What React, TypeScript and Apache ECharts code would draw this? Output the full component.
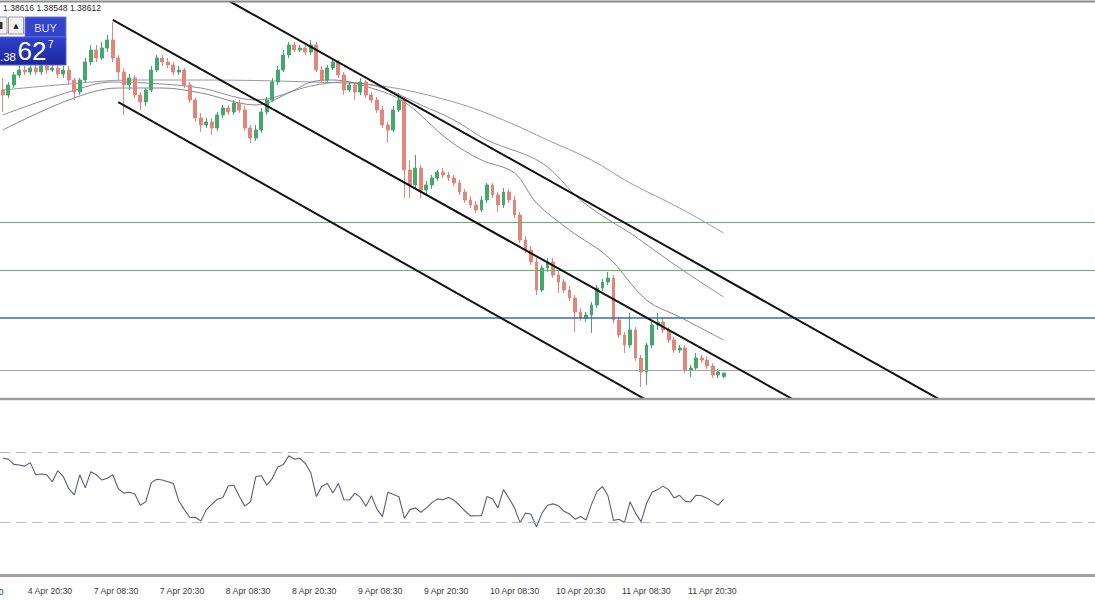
import React, { useEffect, useRef } from "react";
import * as echarts from "echarts";

// ---------- data ----------
const TOTAL_SLOTS = 199; // hourly slots on the time axis (incl. empty right margin)
const BARS_PER_LABEL = 12;
const FIRST_LABEL_SLOT = -8; // slot of tickLabels[0] (just left of the visible area)

const tickLabels = [
  "4 Apr 08:30", "4 Apr 20:30", "7 Apr 08:30", "7 Apr 20:30", "8 Apr 08:30", "8 Apr 20:30",
  "9 Apr 08:30", "9 Apr 20:30", "10 Apr 08:30", "10 Apr 20:30", "11 Apr 08:30", "11 Apr 20:30",
];

// hourly candles: [open, close, low, high]
const candles: number[][] = [
  [1.42150, 1.42088, 1.41875, 1.42300], [1.42088, 1.42213, 1.42050, 1.42250], [1.42213, 1.42338, 1.42175, 1.42375],
  [1.42338, 1.42400, 1.42300, 1.42450], [1.42400, 1.42375, 1.42338, 1.42450], [1.42375, 1.42425, 1.42338, 1.42463],
  [1.42425, 1.42375, 1.42338, 1.42463], [1.42375, 1.42450, 1.42338, 1.42500], [1.42450, 1.42400, 1.42350, 1.42500],
  [1.42400, 1.42425, 1.42375, 1.42463], [1.42425, 1.42350, 1.42300, 1.42463], [1.42350, 1.42400, 1.42300, 1.42450],
  [1.42400, 1.42275, 1.42213, 1.42450], [1.42275, 1.42125, 1.42025, 1.42300], [1.42125, 1.42275, 1.42088, 1.42300],
  [1.42275, 1.42500, 1.42238, 1.42550], [1.42500, 1.42650, 1.42463, 1.42713], [1.42650, 1.42550, 1.42500, 1.42713],
  [1.42550, 1.42675, 1.42525, 1.42750], [1.42675, 1.42775, 1.42625, 1.42838], [1.42775, 1.42550, 1.42500, 1.43000],
  [1.42550, 1.42375, 1.42275, 1.42588], [1.42375, 1.42213, 1.41838, 1.42425], [1.42213, 1.42300, 1.42150, 1.42350],
  [1.42300, 1.42088, 1.42050, 1.42338], [1.42088, 1.42000, 1.41900, 1.42125], [1.42000, 1.42150, 1.41950, 1.42175],
  [1.42150, 1.42400, 1.42125, 1.42450], [1.42400, 1.42550, 1.42375, 1.42588], [1.42550, 1.42500, 1.42450, 1.42588],
  [1.42500, 1.42463, 1.42425, 1.42550], [1.42463, 1.42375, 1.42338, 1.42500], [1.42375, 1.42400, 1.42338, 1.42450],
  [1.42400, 1.42213, 1.42175, 1.42425], [1.42213, 1.42025, 1.41988, 1.42250], [1.42025, 1.41800, 1.41750, 1.42050],
  [1.41800, 1.41713, 1.41625, 1.41863], [1.41713, 1.41750, 1.41675, 1.41800], [1.41750, 1.41675, 1.41588, 1.41800],
  [1.41675, 1.41838, 1.41638, 1.41875], [1.41838, 1.41925, 1.41800, 1.41963], [1.41925, 1.41875, 1.41838, 1.41963],
  [1.41875, 1.41988, 1.41838, 1.42025], [1.41988, 1.41900, 1.41863, 1.42025], [1.41900, 1.41675, 1.41638, 1.41950],
  [1.41675, 1.41550, 1.41488, 1.41713], [1.41550, 1.41650, 1.41513, 1.41713], [1.41650, 1.41875, 1.41613, 1.41925],
  [1.41875, 1.42025, 1.41838, 1.42063], [1.42025, 1.42250, 1.42000, 1.42300], [1.42250, 1.42400, 1.42213, 1.42450],
  [1.42400, 1.42588, 1.42375, 1.42650], [1.42588, 1.42713, 1.42550, 1.42750], [1.42713, 1.42650, 1.42625, 1.42750],
  [1.42650, 1.42675, 1.42625, 1.42713], [1.42675, 1.42625, 1.42588, 1.42713], [1.42625, 1.42713, 1.42588, 1.42775],
  [1.42713, 1.42400, 1.42375, 1.42750], [1.42400, 1.42275, 1.42238, 1.42450], [1.42275, 1.42425, 1.42250, 1.42463],
  [1.42425, 1.42500, 1.42400, 1.42525], [1.42500, 1.42338, 1.42300, 1.42525], [1.42338, 1.42150, 1.42088, 1.42375],
  [1.42150, 1.42213, 1.42125, 1.42250], [1.42213, 1.42125, 1.42025, 1.42250], [1.42125, 1.42250, 1.42088, 1.42300],
  [1.42250, 1.42088, 1.42050, 1.42275], [1.42088, 1.42025, 1.41988, 1.42125], [1.42025, 1.41900, 1.41863, 1.42063],
  [1.41900, 1.41713, 1.41675, 1.41950], [1.41713, 1.41650, 1.41488, 1.41750], [1.41650, 1.41900, 1.41625, 1.41950],
  [1.41900, 1.42025, 1.41875, 1.42113], [1.42025, 1.41150, 1.40800, 1.42063], [1.41150, 1.40963, 1.40800, 1.41275],
  [1.40963, 1.41175, 1.40900, 1.41338], [1.41175, 1.40900, 1.40800, 1.41213], [1.40900, 1.40963, 1.40825, 1.41013],
  [1.40963, 1.41050, 1.40913, 1.41088], [1.41050, 1.41125, 1.41013, 1.41150], [1.41125, 1.41088, 1.41050, 1.41175],
  [1.41088, 1.41050, 1.41013, 1.41125], [1.41050, 1.40988, 1.40950, 1.41088], [1.40988, 1.40875, 1.40838, 1.41025],
  [1.40875, 1.40775, 1.40738, 1.40913], [1.40775, 1.40713, 1.40675, 1.40825], [1.40713, 1.40650, 1.40613, 1.40763],
  [1.40650, 1.40775, 1.40625, 1.40825], [1.40775, 1.40963, 1.40738, 1.40988], [1.40963, 1.40838, 1.40800, 1.40988],
  [1.40838, 1.40713, 1.40625, 1.40875], [1.40713, 1.40875, 1.40675, 1.40925], [1.40875, 1.40775, 1.40738, 1.40913],
  [1.40775, 1.40588, 1.40550, 1.40825], [1.40588, 1.40275, 1.40238, 1.40625], [1.40275, 1.40150, 1.40113, 1.40325],
  [1.40150, 1.40000, 1.39963, 1.40200], [1.40000, 1.39650, 1.39588, 1.40050], [1.39650, 1.39925, 1.39625, 1.39963],
  [1.39925, 1.40000, 1.39875, 1.40050], [1.40000, 1.39838, 1.39800, 1.40050], [1.39838, 1.39750, 1.39613, 1.39888],
  [1.39750, 1.39650, 1.39613, 1.39788], [1.39650, 1.39550, 1.39513, 1.39700], [1.39550, 1.39375, 1.39125, 1.39588],
  [1.39375, 1.39300, 1.39263, 1.39425], [1.39300, 1.39338, 1.39250, 1.39375], [1.39338, 1.39463, 1.39113, 1.39500],
  [1.39463, 1.39675, 1.39425, 1.39713], [1.39675, 1.39750, 1.39638, 1.39788], [1.39750, 1.39800, 1.39713, 1.39875],
  [1.39800, 1.39275, 1.39238, 1.39838], [1.39275, 1.39088, 1.39050, 1.39313], [1.39088, 1.38963, 1.38863, 1.39125],
  [1.38963, 1.39150, 1.38925, 1.39363], [1.39150, 1.38800, 1.38763, 1.39188], [1.38800, 1.38625, 1.38438, 1.38838],
  [1.38625, 1.38963, 1.38463, 1.38988], [1.38963, 1.39213, 1.38925, 1.39250], [1.39213, 1.39250, 1.39150, 1.39363],
  [1.39250, 1.39150, 1.39113, 1.39300], [1.39150, 1.39025, 1.38988, 1.39188], [1.39025, 1.38900, 1.38863, 1.39063],
  [1.38900, 1.38925, 1.38863, 1.38963], [1.38925, 1.38650, 1.38613, 1.38963], [1.38650, 1.38675, 1.38563, 1.38713],
  [1.38675, 1.38800, 1.38638, 1.38863], [1.38800, 1.38775, 1.38738, 1.38838], [1.38775, 1.38700, 1.38663, 1.38825],
  [1.38700, 1.38588, 1.38550, 1.38738], [1.38588, 1.38625, 1.38550, 1.38663], [1.38570, 1.38612, 1.38548, 1.38616],
];

// moving averages, sampled: [bar index, price]
const maSlow: number[][] = [
  [0, 1.42150], [12, 1.42225], [23, 1.42275], [36, 1.42275], [56, 1.42250], [69, 1.42200],
  [82, 1.42000], [91, 1.41775], [99, 1.41525], [107, 1.41275], [114, 1.40988], [123, 1.40675], [131, 1.40363],
];
const maMid: number[][] = [
  [0, 1.41838], [12, 1.42125], [20, 1.42250], [29, 1.42225], [36, 1.42175], [46, 1.42025],
  [56, 1.42200], [62, 1.42250], [69, 1.42175], [76, 1.41963], [82, 1.41775], [88, 1.41525],
  [98, 1.41238], [105, 1.40775], [111, 1.40488], [114, 1.40363], [123, 1.39925], [131, 1.39563],
];
const maFast: number[][] = [
  [0, 1.41650], [12, 1.42025], [21, 1.42175], [29, 1.42175], [36, 1.42113], [46, 1.41963],
  [53, 1.42150], [56, 1.42250], [60, 1.42275], [67, 1.42175], [73, 1.42000], [81, 1.41525],
  [87, 1.41275], [93, 1.41113], [97, 1.40738], [103, 1.40400], [110, 1.40063], [117, 1.39525],
  [123, 1.39313], [131, 1.39025],
];

// trend channel lines: two anchor points each [bar index, price]
const channelMid: number[][] = [[20, 1.43026], [144, 1.38268]];
const channelLow: number[][] = [[21, 1.41998], [117, 1.38274]];
const channelHigh: number[][] = [[41, 1.43268], [171, 1.38253]];

const greenLevels = [1.4050, 1.3990];
const blueLevel = 1.3930;
const grayLevel = 1.3865;

// oscillator (0-100) per bar
const rsi: number[] = [
  66.5, 66, 63, 62.6, 62, 64, 57, 57.5, 57, 53,
  59.4, 56, 49, 45.5, 57, 49.5, 58.8, 57, 54, 55,
  57, 49, 46.5, 47, 46, 39.5, 41.6, 52.5, 54.5, 54,
  53, 52, 42, 37, 32.5, 32.6, 30.5, 37, 40, 43,
  44, 50.7, 51, 44.5, 39, 41.5, 56, 56.5, 51, 55,
  61.5, 63, 68, 66, 66.5, 63.5, 58, 44.5, 50.5, 52,
  46.5, 52, 42.7, 42.5, 46.5, 44, 39, 45, 37.3, 33,
  47, 45.7, 44.4, 32, 37, 38, 35.5, 38, 41, 43.2,
  42.7, 44, 42.5, 39.5, 36.2, 33.4, 33.5, 33.5, 44.5, 43.3,
  38, 48.5, 43.5, 38, 29.5, 35, 34.3, 27, 35, 39.5,
  40.3, 39.2, 36, 34.5, 31.5, 33, 31, 40, 47.5, 50.3,
  44.8, 30.8, 31.5, 29.5, 41.5, 35, 30.1, 40.5, 47, 48.5,
  50.5, 48.5, 43.7, 45.2, 41.9, 41.4, 45.3, 45, 43.6, 41.6,
  39.5, 43,
];
const rsiLevels = [70, 30];

const headerText = "1.38616 1.38548 1.38612";
const quoteSmall = ".38";
const quoteBig = "62";
const quotePip = "7";

// ---------- component ----------
export default function App() {
  const ref = useRef<HTMLDivElement>(null);

  useEffect(() => {
    if (!ref.current) return;
    const chart = echarts.init(ref.current, null, { renderer: "svg" });

    const cats = Array.from({ length: TOTAL_SLOTS }, (_, i) => String(i));
    const candleData = candles.map((c, k) => [k, c[0], c[1], c[2], c[3]]);
    const rsiData = rsi.map((v, k) => [k, v]);
    const font = "Liberation Sans";
    const up = "#44a86c";
    const down = "#e2857b";
    const isLabelSlot = (i: number) => (i - FIRST_LABEL_SLOT) % BARS_PER_LABEL === 0;

    const maSeries = (data: number[][], color: string) => ({
      type: "line",
      xAxisIndex: 0,
      yAxisIndex: 0,
      data,
      smooth: 0.35,
      symbol: "none",
      silent: true,
      lineStyle: { color, width: 1 },
      z: 3,
    });
    const chanSeries = (data: number[][]) => ({
      type: "line",
      xAxisIndex: 0,
      yAxisIndex: 0,
      data,
      symbol: "none",
      silent: true,
      lineStyle: { color: "#111111", width: 2 },
      z: 5,
    });

    const option: any = {
      animation: false,
      backgroundColor: "#ffffff",
      grid: [
        { left: 0, right: 0, top: 2, height: 396 },
        { left: 0, right: 0, top: 400, height: 174 },
      ],
      xAxis: [
        { type: "category", gridIndex: 0, data: cats, show: false, boundaryGap: true },
        {
          type: "category",
          gridIndex: 1,
          data: cats,
          boundaryGap: true,
          offset: 9,
          axisLine: { show: true, lineStyle: { color: "#8f8f8f", width: 1 } },
          axisTick: {
            show: true,
            alignWithLabel: true,
            length: 3,
            interval: (i: number) => isLabelSlot(i),
            lineStyle: { color: "#777" },
          },
          axisLabel: {
            show: true,
            interval: (i: number) => isLabelSlot(i),
            formatter: (_v: string, i: number) => tickLabels[(i - FIRST_LABEL_SLOT) / BARS_PER_LABEL] ?? "",
            align: "left",
            padding: [0, 0, 0, 3],
            margin: 3,
            fontSize: 8.7,
            fontFamily: font,
            color: "#3a3a3a",
          },
          splitLine: { show: false },
        },
      ],
      yAxis: [
        { type: "value", gridIndex: 0, min: 1.383, max: 1.4325, show: false, splitLine: { show: false } },
        { type: "value", gridIndex: 1, min: 0, max: 100, show: false, splitLine: { show: false } },
      ],
      series: [
        {
          type: "candlestick",
          xAxisIndex: 0,
          yAxisIndex: 0,
          data: candleData,
          encode: { x: 0, y: [1, 2, 3, 4] },
          barWidth: 3.4,
          silent: true,
          itemStyle: { color: up, color0: down, borderColor: up, borderColor0: down, borderWidth: 1 },
          z: 4,
          markLine: {
            silent: true,
            symbol: "none",
            precision: 5,
            label: { show: false },
            data: [
              ...greenLevels.map((v) => ({ yAxis: v, lineStyle: { color: "#62b562", width: 1.2, type: "solid" } })),
              { yAxis: blueLevel, lineStyle: { color: "#2f6fb8", width: 1.6, type: "solid" } },
              { yAxis: grayLevel, lineStyle: { color: "#a6a6a6", width: 1, type: "solid" } },
            ],
          },
        },
        maSeries(maSlow, "#9898a6"),
        maSeries(maMid, "#8c8c98"),
        maSeries(maFast, "#85858f"),
        chanSeries(channelMid),
        chanSeries(channelLow),
        chanSeries(channelHigh),
        {
          type: "line",
          xAxisIndex: 1,
          yAxisIndex: 1,
          data: rsiData,
          symbol: "none",
          silent: true,
          lineStyle: { color: "#5c5c7c", width: 1.1 },
          markLine: {
            silent: true,
            symbol: "none",
            precision: 2,
            label: { show: false },
            data: rsiLevels.map((v) => ({ yAxis: v })),
            lineStyle: { color: "#b9b9c6", width: 1, type: [10, 6] },
          },
        },
      ],
      graphic: [
        // frame separators
        { type: "rect", z: 50, silent: true, shape: { x: 0, y: 0.5, width: 1095, height: 2 }, style: { fill: "#8c8c8c" } },
        { type: "rect", z: 50, silent: true, shape: { x: 0, y: 397.8, width: 1095, height: 2.4 }, style: { fill: "#9b9b9b" } },
        { type: "rect", z: 50, silent: true, shape: { x: 0, y: 574, width: 1095, height: 3 }, style: { fill: "#a2a2a2" } },
        // clipped label left of the visible time range
        {
          type: "text", z: 60, silent: true, x: 3.5, y: 587,
          style: { text: tickLabels[0], fill: "#3a3a3a", fontSize: 8.7, fontFamily: font, textAlign: "right", textVerticalAlign: "top" },
        },
        // header
        {
          type: "text", z: 60, silent: true, x: 3, y: 8,
          style: { text: headerText, fill: "#2a2a2a", fontSize: 8.6, fontFamily: font, textVerticalAlign: "middle" },
        },
        // one-click trading panel
        { type: "rect", z: 60, silent: true, shape: { x: -2, y: 17, width: 9, height: 17 }, style: { fill: "#f2f2f2", stroke: "#9a9a9a", lineWidth: 1 } },
        { type: "rect", z: 61, silent: true, shape: { x: 0, y: 22, width: 2.5, height: 7 }, style: { fill: "#333" } },
        { type: "rect", z: 60, silent: true, shape: { x: 8.5, y: 17, width: 15, height: 17 }, style: { fill: "#f2f2f2", stroke: "#9a9a9a", lineWidth: 1 } },
        {
          type: "text", z: 61, silent: true, x: 16, y: 25.5,
          style: { text: "▲", fill: "#222", fontSize: 7, fontFamily: "DejaVu Sans", textAlign: "center", textVerticalAlign: "middle" },
        },
        {
          type: "rect", z: 60, silent: true, shape: { x: 25, y: 17, width: 41, height: 20 },
          style: { fill: "#3445c8", stroke: "#6f7de0", lineWidth: 1 },
        },
        {
          type: "text", z: 61, silent: true, x: 45.5, y: 27.5,
          style: { text: "BUY", fill: "#d8ddff", fontSize: 11, fontFamily: font, textAlign: "center", textVerticalAlign: "middle" },
        },
        {
          type: "rect", z: 60, silent: true, shape: { x: -1, y: 37, width: 67, height: 28 },
          style: {
            fill: new echarts.graphic.LinearGradient(0, 0, 0, 1, [
              { offset: 0, color: "#2f40cc" },
              { offset: 1, color: "#1c289f" },
            ]),
            stroke: "#5563d6",
            lineWidth: 1,
          },
        },
        {
          type: "text", z: 61, silent: true, x: 0, y: 56.5,
          style: { text: quoteSmall, fill: "#ffffff", fontSize: 11.5, fontFamily: font, textVerticalAlign: "middle" },
        },
        {
          type: "text", z: 61, silent: true, x: 17.5, y: 51,
          style: { text: quoteBig, fill: "#ffffff", fontSize: 26, fontFamily: font, textVerticalAlign: "middle" },
        },
        {
          type: "text", z: 61, silent: true, x: 48, y: 44,
          style: { text: quotePip, fill: "#ffffff", fontSize: 10, fontFamily: font, textVerticalAlign: "middle" },
        },
      ],
    };

    chart.setOption(option);
    return () => chart.dispose();
  }, []);

  return (
    <div
      ref={ref}
      style={{ position: "fixed", left: 0, top: 0, width: 1095, height: 600, background: "#fff" }}
    />
  );
}
